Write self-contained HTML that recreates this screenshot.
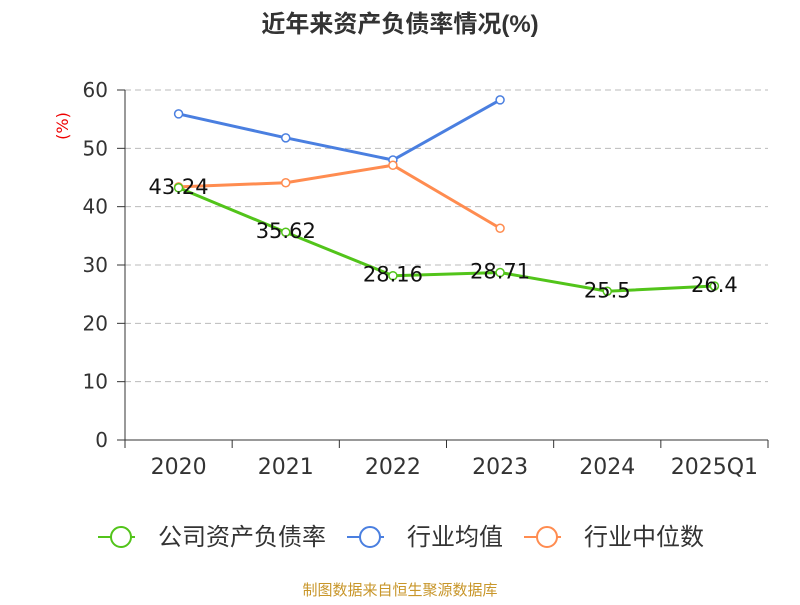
<!DOCTYPE html>
<html><head><meta charset="utf-8"><style>
body{margin:0;background:#fff;}
svg text{font-family:"DejaVu Sans","Noto Sans CJK SC",sans-serif;}
</style></head><body>
<svg id="chart" width="800" height="600" viewBox="0 0 800 600">
<text x="400" y="32" text-anchor="middle" font-size="24" font-weight="bold" fill="#333" style="font-family:'Liberation Sans','Noto Sans CJK SC',sans-serif">近年来资产负债率情况(%)</text>
<text x="68" y="126" text-anchor="middle" font-size="16" fill="#e00" transform="rotate(-90 68 126)">(%)</text>
<g id="grid"></g>
<g id="axes"></g>
<g id="series"></g>
<g id="legend"></g>
<text x="400" y="595" text-anchor="middle" font-size="15" fill="#c8962a">制图数据来自恒生聚源数据库</text>
</svg>
<script>
const categories=["2020","2021","2022","2023","2024","2025Q1"];
const companyValues=[43.24,35.62,28.16,28.71,25.5,26.4];
const industryAvg=[55.9,51.8,48.0,58.3];
const industryMedian=[43.4,44.1,47.1,36.3];
const yTicks=[0,10,20,30,40,50,60];
const seriesNames=["公司资产负债率","行业均值","行业中位数"];
const colors=["#52c41a","#4a7fe0","#ff8c50"];
const NS="http://www.w3.org/2000/svg";
const x0=125,x1=768,y0=440,y1=90,yMax=60;
const bw=(x1-x0)/categories.length;
const xs=i=>x0+bw*(i+0.5);
const ys=v=>y0-(v/yMax)*(y0-y1);
function mk(tag,attrs,parent,text){const e=document.createElementNS(NS,tag);for(const k in attrs)e.setAttribute(k,attrs[k]);if(text!==undefined)e.textContent=text;parent.appendChild(e);return e;}
const grid=document.getElementById('grid'),axes=document.getElementById('axes'),series=document.getElementById('series'),legend=document.getElementById('legend');
yTicks.forEach(t=>{
  const y=ys(t);
  if(t>0){const g=mk('line',{x1:x0,x2:x1,y1:y,y2:y,stroke:'#bbb','stroke-dasharray':'6,4'},grid);
  
  }
  const tk=mk('line',{x1:117,x2:x0,y1:y,y2:y,stroke:'#333'},axes);
  
  
  const lb=mk('text',{x:108,y:y+7,'text-anchor':'end','font-size':20,fill:'#333'},axes,String(t));
  
  
});
const ya=mk('line',{x1:x0,x2:x0,y1:y1,y2:y0,stroke:'#333'},axes);


const xa=mk('line',{x1:x0,x2:x1,y1:y0,y2:y0,stroke:'#333'},axes);


for(let i=0;i<=categories.length;i++){
  const tk=mk('line',{x1:x0+bw*i,x2:x0+bw*i,y1:y0,y2:y0+8,stroke:'#333'},axes);
  
  
}
categories.forEach((c,i)=>{
  const lb=mk('text',{x:xs(i),y:474,'text-anchor':'middle','font-size':22,fill:'#333'},axes,c);
  
  
});
function drawLine(vals,color,name,labels){
  const pts=vals.map((v,i)=>xs(i)+','+ys(v)).join(' ');
  const pl=mk('polyline',{points:pts,fill:'none',stroke:color,'stroke-width':3},series);
  
  
  vals.forEach((v,i)=>{
    const c=mk('circle',{cx:xs(i),cy:ys(v),r:4,fill:'#fff',stroke:color,'stroke-width':1.5},series);
    
    
    if(labels){
      const t=mk('text',{x:xs(i),y:ys(v)+6,'text-anchor':'middle','font-size':21,fill:'#111'},series,String(v));
      
      
    }
  });
}
drawLine(industryAvg,colors[1],'industry-average',false);
drawLine(industryMedian,colors[2],'industry-median',false);
drawLine(companyValues,colors[0],'company-debt-ratio',true);
const lx=[98,347,524];
seriesNames.forEach((n,i)=>{
  const g=mk('g',{},legend);
  
  
  mk('line',{x1:lx[i],x2:lx[i]+37,y1:537,y2:537,stroke:colors[i],'stroke-width':2},g);
  mk('circle',{cx:lx[i]+23,cy:537,r:10,fill:'#fff',stroke:colors[i],'stroke-width':2},g);
  mk('text',{x:lx[i]+60,y:545,'font-size':24,fill:'#333'},g,n);
});
</script>
</body></html>
